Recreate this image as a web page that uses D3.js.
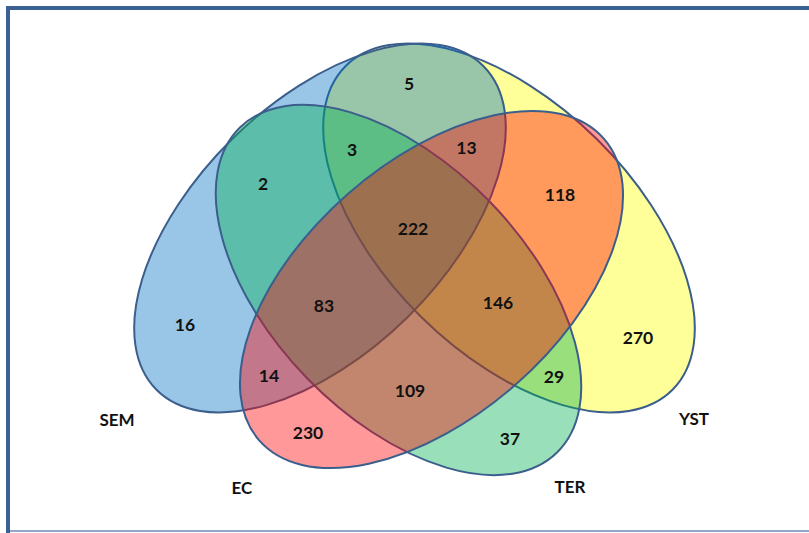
<!DOCTYPE html>
<html>
<head>
<meta charset="utf-8">
<script src="https://cdn.jsdelivr.net/npm/d3@7"></script>
<style>
  html, body { margin: 0; padding: 0; background: #ffffff; }
  svg { display: block; }
  text { font-family: Lato, "Open Sans", "DejaVu Sans", sans-serif; font-weight: 700; }
</style>
</head>
<body>
<svg id="chart" width="809" height="533"></svg>
<script>
// ---- data ----
const setNames  = ["YST", "SEM", "TER", "EC"];          // drawing order (back to front)
const setColors = ["#FFFF00", "#0070C0", "#00B050", "#FF0000"];

// each region: which sets it belongs to, and its count
const regionMembers = [
  ["SEM", "YST"], ["SEM", "YST", "TER"], ["SEM", "YST", "EC"], ["SEM", "TER"],
  ["YST", "EC"], ["SEM", "YST", "TER", "EC"], ["SEM"], ["SEM", "TER", "EC"],
  ["YST", "TER", "EC"], ["YST"], ["SEM", "EC"], ["TER", "EC"],
  ["YST", "TER"], ["EC"], ["TER"]
];
const regionCounts = [5, 3, 13, 2, 118, 222, 16, 83, 146, 270, 14, 109, 29, 230, 37];

// ---- layout (diagram units, origin at the diagram centre) ----
const ellipseLayout = {
  YST: { cx:  94.5, cy: -32,   rx: 230, ry: 125, rot:  44.6 },
  SEM: { cx: -94.5, cy: -32,   rx: 230, ry: 125, rot: -44.6 },
  TER: { cx: -16,   cy:  30,   rx: 227, ry: 127, rot:  45.7 },
  EC:  { cx:  17,   cy:  29.5, rx: 229, ry: 127, rot: -41.2 }
};
const regionLabelPos = [
  [-5.5, -177], [-62.5, -111], [52, -113], [-151.5, -77],
  [145.5, -66], [-1.5, -32], [-229.5, 64], [-90.5, 45],
  [83.5, 42], [223.5, 77], [-145.5, 115], [-4.5, 130],
  [139.5, 116], [-106.5, 172], [95.5, 178]
];
const setLabelPos = {
  SEM: [-297.5, 159], EC: [-172.5, 227], TER: [155.5, 226], YST: [279.5, 158]
};

const width = 809, height = 533;
const x = d3.scaleLinear().domain([-400, 400]).range([14.5, 814.5]);
const y = d3.scaleLinear().domain([-260, 260]).range([0, 520]);
const k = x(1) - x(0);

const svg = d3.select("#chart");

// frame
svg.append("rect")
  .attr("x", 8).attr("y", 8)
  .attr("width", 830).attr("height", 560)
  .attr("fill", "none")
  .attr("stroke", "#3a6192")
  .attr("stroke-width", 4);
svg.append("line")
  .attr("x1", 10).attr("x2", 809)
  .attr("y1", 531).attr("y2", 531)
  .attr("stroke", "#93aac6")
  .attr("stroke-width", 2);

// translucent set ellipses
const g = svg.append("g");
setNames.forEach((name, i) => {
  const e = ellipseLayout[name];
  g.append("ellipse")
    .attr("transform", `translate(${x(e.cx)},${y(e.cy)}) rotate(${e.rot})`)
    .attr("rx", e.rx * k)
    .attr("ry", e.ry * k)
    .attr("fill", setColors[i])
    .attr("fill-opacity", 0.4)
    .attr("stroke", "#3b5e8c")
    .attr("stroke-width", 2);
});

// region counts
svg.append("g").selectAll("text")
  .data(regionCounts)
  .join("text")
  .attr("x", (d, i) => x(regionLabelPos[i][0]))
  .attr("y", (d, i) => y(regionLabelPos[i][1]))
  .attr("text-anchor", "middle")
  .attr("dominant-baseline", "central")
  .attr("font-size", 17.5)
  .attr("fill", "#111")
  .text(d => d);

// set names
svg.append("g").selectAll("text")
  .data(["SEM", "EC", "TER", "YST"])
  .join("text")
  .attr("x", d => x(setLabelPos[d][0]))
  .attr("y", d => y(setLabelPos[d][1]))
  .attr("text-anchor", "middle")
  .attr("dominant-baseline", "central")
  .attr("font-size", 17)
  .attr("fill", "#111")
  .text(d => d);
</script>
</body>
</html>
